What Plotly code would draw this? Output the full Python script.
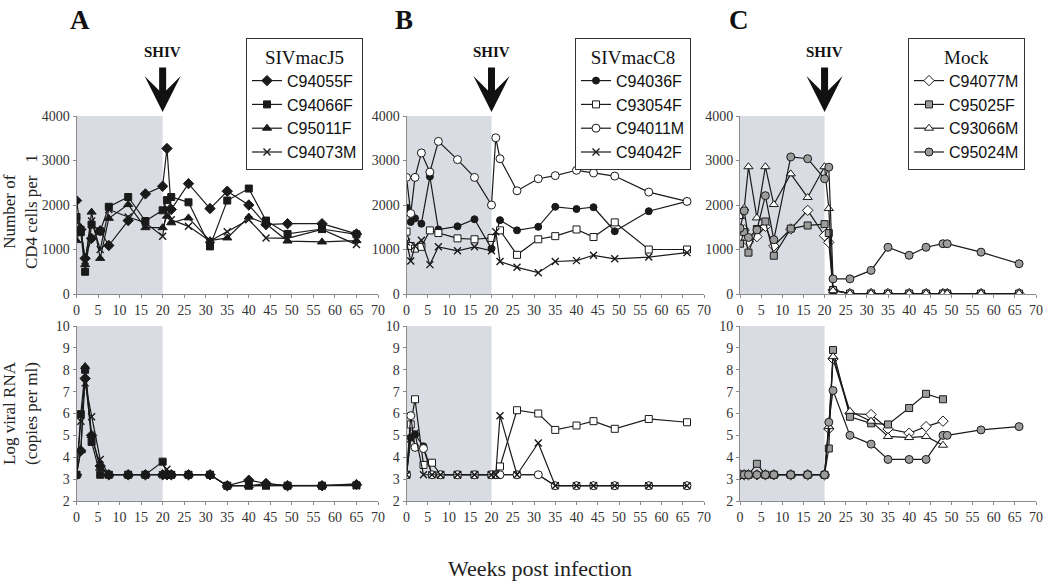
import plotly.graph_objects as go

W, H = 1050, 585

# ---------------- DATA ----------------
# Panel A  (SIVmacJ5)
weeks_A = [0, 1, 2, 3.5, 5.5, 7.5, 12, 16, 20, 21, 22, 26, 31, 35, 40, 44, 49, 57, 65]
cd4_C94055F = [2100, 1450, 800, 1250, 1420, 1090, 1650, 2250, 2420, 3270, 1900, 2480, 1920, 2310, 2000, 1560, 1580, 1580, 1350]
cd4_C94066F = [1730, 1390, 500, 1560, 1410, 1960, 2180, 1640, 1880, 2110, 2180, 2060, 1070, 2100, 2370, 1650, 1350, 1460, 1340]
cd4_C95011F = [1200, 1490, 660, 1840, 800, 1700, 2010, 1490, 1490, 1750, 1600, 1710, 1200, 1260, 1730, 1580, 1190, 1170, 1200]
cd4_C94073M = [1650, 1450, 750, 1640, 1000, 1900, 1730, 1600, 1300, 1940, 1670, 1520, 1190, 1400, 1670, 1260, 1250, 1450, 1110]
vl_C94055F = [3.2, 4.3, 7.6, 5.0, 3.6, 3.2, 3.2, 3.2, 3.2, 3.2, 3.2, 3.2, 3.2, 2.7, 2.95, 2.8, 2.7, 2.7, 2.75]
vl_C94066F = [3.2, 5.97, 8.0, 4.7, 3.2, 3.2, 3.2, 3.2, 3.8, 3.2, 3.2, 3.2, 3.2, 2.7, 2.7, 2.7, 2.7, 2.7, 2.72]
vl_C95011F = [3.2, 4.3, 8.15, 5.0, 3.5, 3.2, 3.2, 3.2, 3.2, 3.2, 3.2, 3.2, 3.2, 2.7, 2.7, 2.8, 2.7, 2.7, 2.78]
vl_C94073M = [3.2, 5.65, 7.4, 5.85, 3.9, 3.2, 3.2, 3.2, 3.2, 3.45, 3.2, 3.2, 3.2, 2.7, 2.7, 2.7, 2.7, 2.7, 2.7]

# Panel B  (SIVmacC8)
weeks_B18 = [0, 1, 2, 3.5, 5.5, 7.5, 12, 16, 20, 22, 26, 31, 35, 40, 44, 49, 57, 66]
weeks_B19 = [0, 1, 2, 3.5, 5.5, 7.5, 12, 16, 20, 21, 22, 26, 31, 35, 40, 44, 49, 57, 66]
cd4_C94036F = [1940, 1620, 1700, 1580, 2640, 1450, 1520, 1680, 1020, 1660, 1430, 1510, 1960, 1910, 1950, 1410, 1860, 2080]
cd4_C93054F = [1400, 1080, 1020, 1060, 1430, 1370, 1250, 1230, 1260, 1430, 880, 1230, 1300, 1450, 1280, 1610, 1000, 1000]
cd4_C94011M = [2620, 1810, 2620, 3170, 2740, 3430, 3020, 2620, 2000, 3510, 3040, 2320, 2590, 2660, 2780, 2720, 2650, 2290, 2080]
cd4_C94042F = [1170, 740, 1080, 1210, 660, 1060, 970, 1060, 970, 1400, 730, 600, 480, 730, 750, 870, 790, 830, 930]
weeks_Bvl = [0, 1, 2, 4, 6, 8, 12, 16, 20, 21, 22, 26, 31, 35, 40, 44, 49, 57, 66]
vl_C94036F = [3.2, 4.9, 5.05, 4.5, 3.2, 3.2, 3.2, 3.2, 3.2, 3.2, 3.2, 3.2, 3.2, 2.7, 2.7, 2.7, 2.7, 2.7, 2.7]
vl_C93054F = [3.2, 5.5, 6.65, 3.65, 3.75, 3.2, 3.2, 3.2, 3.2, 3.2, 3.58, 6.15, 6.0, 5.25, 5.45, 5.65, 5.3, 5.75, 5.6]
vl_C94011M = [3.2, 5.9, 4.45, 4.4, 3.2, 3.2, 3.2, 3.2, 3.2, 3.2, 3.2, 3.2, 3.2, 2.7, 2.7, 2.7, 2.7, 2.7, 2.7]
vl_C94042F = [3.2, 4.85, 5.1, 3.2, 3.2, 3.2, 3.2, 3.2, 3.2, 3.2, 5.9, 3.2, 4.65, 2.7, 2.7, 2.7, 2.7, 2.7, 2.7]

# Panel C  (Mock)
weeks_C = [0, 1, 2, 4, 6, 8, 12, 16, 20, 21, 22, 26, 31, 35, 40, 44, 48, 49, 57, 66]
cd4_C94077M = [1270, 1440, 1170, 1290, 1520, 1080, 1460, 1880, 1310, 1160, 90, 10, 10, 10, 10, 10, 10, 10, 10, 10]
cd4_C95025F = [1130, 1390, 930, 1460, 1630, 860, 1470, 1540, 1570, 1370, 90, 10, 10, 10, 10, 10, 10, 10, 10, 10]
cd4_C93066M = [1740, 1930, 2860, 1710, 2860, 2010, 2700, 2170, 2860, 1920, 75, 10, 10, 10, 10, 10, 10, 10, 10, 10]
cd4_C95024M = [1480, 1870, 1270, 1440, 2210, 1220, 3080, 3040, 2590, 2850, 340, 340, 530, 1050, 870, 1050, 1130, 1130, 940, 680]
weeks_Cvl = [0, 1, 2, 4, 6, 8, 12, 16, 20, 21, 22, 26, 31, 35, 40, 44, 48]
vl_C94077M = [3.2, 3.2, 3.2, 3.2, 3.2, 3.2, 3.2, 3.2, 3.2, 5.3, 8.5, 6.0, 5.95, 5.3, 5.1, 5.4, 5.65]
vl_C95025F = [3.2, 3.2, 3.2, 3.7, 3.2, 3.2, 3.2, 3.2, 3.2, 4.4, 8.9, 5.85, 5.55, 5.5, 6.25, 6.9, 6.65]
vl_C93066M = [3.2, 3.2, 3.2, 3.2, 3.2, 3.2, 3.2, 3.2, 3.2, 5.4, 8.6, 6.1, 5.65, 4.95, 4.9, 4.95, 4.55]
vl_C95024M = [3.2, 3.2, 3.2, 3.2, 3.2, 3.2, 3.2, 3.2, 3.2, 5.6, 7.05, 5.0, 4.6, 3.9, 3.9, 3.9, 5.0, 5.0, 5.25, 5.4]

x_ticks = [0, 5, 10, 15, 20, 25, 30, 35, 40, 45, 50, 55, 60, 65, 70]
cd4_ticks = [0, 1000, 2000, 3000, 4000]
vl_ticks = [2, 3, 4, 5, 6, 7, 8, 9, 10]
panel_letters = ["A", "B", "C"]
legend_titles = ["SIVmacJ5", "SIVmacC8", "Mock"]

# ---------------- STYLE / LAYOUT ----------------
SERIF = "Liberation Serif, Times New Roman, serif"
SANS = "Liberation Sans, Arial, sans-serif"
LINE = "#1a1a1a"
GREY = "#9c9c9c"
SHADE = "#d9dce3"
AX = "#8a8a8a"

col_px = [(76.5, 378), (406.5, 704), (740, 1036)]
row_px = [(116, 294), (326, 501)]

def xd(a, b):
    return [a / W, b / W]

def yd(a, b):
    return [1 - b / H, 1 - a / H]

fig = go.Figure()

def add(panel, row, name, x, y, symbol, fill, size=7, lw=1.2, show=False, mlw=1.0):
    idx = panel + 1 + 3 * row
    fig.add_trace(go.Scatter(
        x=x, y=y, name=name, mode="lines+markers",
        xaxis="x" + ("" if idx == 1 else str(idx)),
        yaxis="y" + ("" if idx == 1 else str(idx)),
        line=dict(color=LINE, width=lw),
        marker=dict(symbol=symbol, size=size, color=fill,
                    line=dict(color=LINE, width=mlw)),
        showlegend=show,
        legend="legend" if panel == 0 else "legend%d" % (panel + 1),
    ))

# Panel A
for row, (d1, d2, d3, d4) in enumerate([(cd4_C94055F, cd4_C94066F, cd4_C95011F, cd4_C94073M),
                                         (vl_C94055F, vl_C94066F, vl_C95011F, vl_C94073M)]):
    s = row == 0
    add(0, row, "C94055F", weeks_A, d1, "diamond", LINE, 8, show=s)
    add(0, row, "C94066F", weeks_A, d2, "square", LINE, 7, show=s)
    add(0, row, "C95011F", weeks_A, d3, "triangle-up", LINE, 8, show=s)
    add(0, row, "C94073M", weeks_A, d4, "x-thin-open", LINE, 7, show=s, mlw=1.4)

# Panel B
add(1, 0, "C94036F", weeks_B18, cd4_C94036F, "circle", LINE, 7, show=True)
add(1, 0, "C93054F", weeks_B18, cd4_C93054F, "square", "white", 7, show=True)
add(1, 0, "C94011M", weeks_B19, cd4_C94011M, "circle", "white", 8, show=True)
add(1, 0, "C94042F", weeks_B19, cd4_C94042F, "x-thin-open", LINE, 7, show=True, mlw=1.4)
add(1, 1, "C94036F", weeks_Bvl, vl_C94036F, "circle", LINE, 7)
add(1, 1, "C93054F", weeks_Bvl, vl_C93054F, "square", "white", 7)
add(1, 1, "C94011M", weeks_Bvl, vl_C94011M, "circle", "white", 8)
add(1, 1, "C94042F", weeks_Bvl, vl_C94042F, "x-thin-open", LINE, 7, mlw=1.4)

# Panel C
add(2, 0, "C94077M", weeks_C, cd4_C94077M, "diamond", "white", 8, show=True)
add(2, 0, "C95025F", weeks_C, cd4_C95025F, "square", GREY, 7, show=True)
add(2, 0, "C93066M", weeks_C, cd4_C93066M, "triangle-up", "white", 8, show=True)
add(2, 0, "C95024M", weeks_C, cd4_C95024M, "circle", GREY, 8, show=True)
add(2, 1, "C94077M", weeks_Cvl, vl_C94077M, "diamond", "white", 8)
add(2, 1, "C95025F", weeks_Cvl, vl_C95025F, "square", GREY, 7)
add(2, 1, "C93066M", weeks_Cvl, vl_C93066M, "triangle-up", "white", 8)
add(2, 1, "C95024M", weeks_C, vl_C95024M, "circle", GREY, 8)

layout = dict(
    width=W, height=H, margin=dict(l=0, r=0, t=0, b=0, autoexpand=False),
    paper_bgcolor="white", plot_bgcolor="white",
    font=dict(family=SERIF, size=14, color="#222"),
)

tickfont = dict(family=SERIF, size=14, color="#333")
shapes = []
for row in range(2):
    for col in range(3):
        idx = col + 1 + 3 * row
        sx = "" if idx == 1 else str(idx)
        layout["xaxis" + sx] = dict(
            domain=xd(*col_px[col]), range=[0, 70], tickvals=x_ticks,
            anchor="y" + sx, showgrid=False, zeroline=False, automargin=False,
            showline=True, linecolor=AX, linewidth=1,
            ticks="outside", ticklen=3, tickcolor=AX, tickfont=tickfont,
        )
        layout["yaxis" + sx] = dict(
            domain=yd(*row_px[row]),
            range=[0, 4000] if row == 0 else [2, 10],
            tickvals=cd4_ticks if row == 0 else vl_ticks,
            anchor="x" + sx, showgrid=False, zeroline=False, automargin=False,
            showline=True, linecolor=AX, linewidth=1,
            ticks="outside", ticklen=3, tickcolor=AX, tickfont=tickfont,
        )
        shapes.append(dict(type="rect", xref="x" + sx, yref="y" + sx + " domain",
                           x0=0, x1=20, y0=0, y1=1, fillcolor=SHADE,
                           line=dict(width=0), layer="below"))

layout["shapes"] = shapes

legend_left = [246, 575, 908]
for i in range(3):
    key = "legend" if i == 0 else "legend%d" % (i + 1)
    layout[key] = dict(
        x=legend_left[i] / W, y=1 - 38 / H, xanchor="left", yanchor="top",
        bgcolor="white", bordercolor="#333", borderwidth=1,
        font=dict(family=SANS, size=16, color="#111"),
        title=dict(text=legend_titles[i], side="top center",
                   font=dict(family=SERIF, size=19, color="#111")),
        tracegroupgap=0, itemwidth=30,
    )

ann = []
letter_x = [80, 404, 739]
for i in range(3):
    xs = "x" if i == 0 else "x%d" % (i + 1)
    ann.append(dict(text="<b>%s</b>" % panel_letters[i], x=letter_x[i] / W, y=1 - 20 / H,
                    xref="paper", yref="paper", showarrow=False,
                    xanchor="center", yanchor="middle",
                    font=dict(family=SERIF, size=27, color="#111")))
    ann.append(dict(text="<b>SHIV</b>", x=20, y=1 - 52 / H, xref=xs, yref="paper",
                    showarrow=False, xanchor="center", yanchor="middle",
                    font=dict(family=SERIF, size=15, color="#111")))
    ann.append(dict(text="", x=20, y=1 - 112 / H, xref=xs, yref="paper",
                    showarrow=True, ax=0, ay=-46, arrowhead=3, arrowwidth=7,
                    arrowsize=0.86, arrowcolor="#111"))

ann.append(dict(text="Number of<br>CD4 cells per   1", x=20 / W, y=1 - 212 / H,
                xref="paper", yref="paper", showarrow=False, textangle=-90,
                xanchor="center", yanchor="middle",
                font=dict(family=SERIF, size=17, color="#222")))
ann.append(dict(text="Log viral RNA<br>(copies per ml)", x=20 / W, y=1 - 413 / H,
                xref="paper", yref="paper", showarrow=False, textangle=-90,
                xanchor="center", yanchor="middle",
                font=dict(family=SERIF, size=17, color="#222")))
ann.append(dict(text="Weeks post infection", x=540 / W, y=1 - 568 / H,
                xref="paper", yref="paper", showarrow=False,
                xanchor="center", yanchor="middle",
                font=dict(family=SERIF, size=22, color="#222")))
layout["annotations"] = ann

fig.update_layout(**layout)
fig.write_html("out.html",
               config={"displayModeBar": False},
               post_script="document.body.style.margin='0';document.body.style.padding='0';")
